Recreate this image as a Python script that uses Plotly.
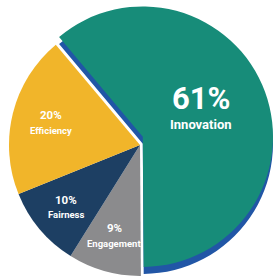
import math
import plotly.graph_objects as go

labels = ["Innovation", "Engagement", "Fairness", "Efficiency"]
values = [61, 9, 10, 20]
colors = ["#178c79", "#8b8b8d", "#1d3f63", "#f1b52a"]
side_color = "#2156a6"
pct_size = [31, 11.5, 11.5, 11.5]
name_size = [13, 9.5, 9.5, 9.5]
label_radius = [0.47, 0.72, 0.74, 0.70]   # fraction of pie radius along each slice's bisector

W, H = 273, 278
rotation = 320
cx, cy, r = 140, 145, 131           # base pie (pixels)
pull_px = 3.8                        # explode distance of the big slice
lift = 7                             # 3-D lift of the big slice

n = len(labels)
total = float(sum(values))
mids, a = [], rotation
for v in values:
    span = 360.0 * v / total
    mids.append(a + span / 2)
    a += span

m0 = math.radians(mids[0])
ex, ey = cx + pull_px * math.sin(m0), cy - pull_px * math.cos(m0)


def dom(x_c, y_c):
    return dict(x=[max(0, x_c - r) / W, min(W, x_c + r) / W],
                y=[max(0, 1 - (y_c + r) / H), min(1, 1 - (y_c - r) / H)])


clear = "rgba(0,0,0,0)"
common = dict(labels=labels, values=values, sort=False, direction="clockwise",
              rotation=rotation, textinfo="none", hoverinfo="skip",
              marker_line_width=0, showlegend=False)

fig = go.Figure()
fig.add_trace(go.Pie(**common, marker_colors=[side_color] + [clear] * (n - 1), domain=dom(ex, ey)))
fig.add_trace(go.Pie(**common, marker_colors=[clear] + colors[1:], domain=dom(cx, cy)))
fig.add_trace(go.Pie(**common, marker_colors=[colors[0]] + [clear] * (n - 1), domain=dom(ex, ey - lift)))

for i in range(n):
    th = math.radians(mids[i])
    ox, oy = (ex, ey - lift) if i == 0 else (cx, cy)
    px = ox + label_radius[i] * r * math.sin(th)
    py = oy - label_radius[i] * r * math.cos(th)
    pct = "%d%%" % round(100 * values[i] / total)
    fig.add_annotation(x=px / W, y=1 - py / H, xref="paper", yref="paper",
                       text="<b>%s</b>" % pct, showarrow=False,
                       xanchor="center", yanchor="bottom",
                       yshift=-0.12 * pct_size[i],
                       font=dict(family="Roboto", size=pct_size[i], color="white"))
    fig.add_annotation(x=px / W, y=1 - py / H, xref="paper", yref="paper",
                       text="<b>%s</b>" % labels[i], showarrow=False,
                       xanchor="center", yanchor="top",
                       font=dict(family="Roboto", size=name_size[i], color="white"))

fig.update_layout(width=W, height=H, margin=dict(l=0, r=0, t=0, b=0),
                  paper_bgcolor="white", plot_bgcolor="white")
fig.write_html("out.html", config={"displayModeBar": False},
               post_script="document.body.style.margin='0';")
